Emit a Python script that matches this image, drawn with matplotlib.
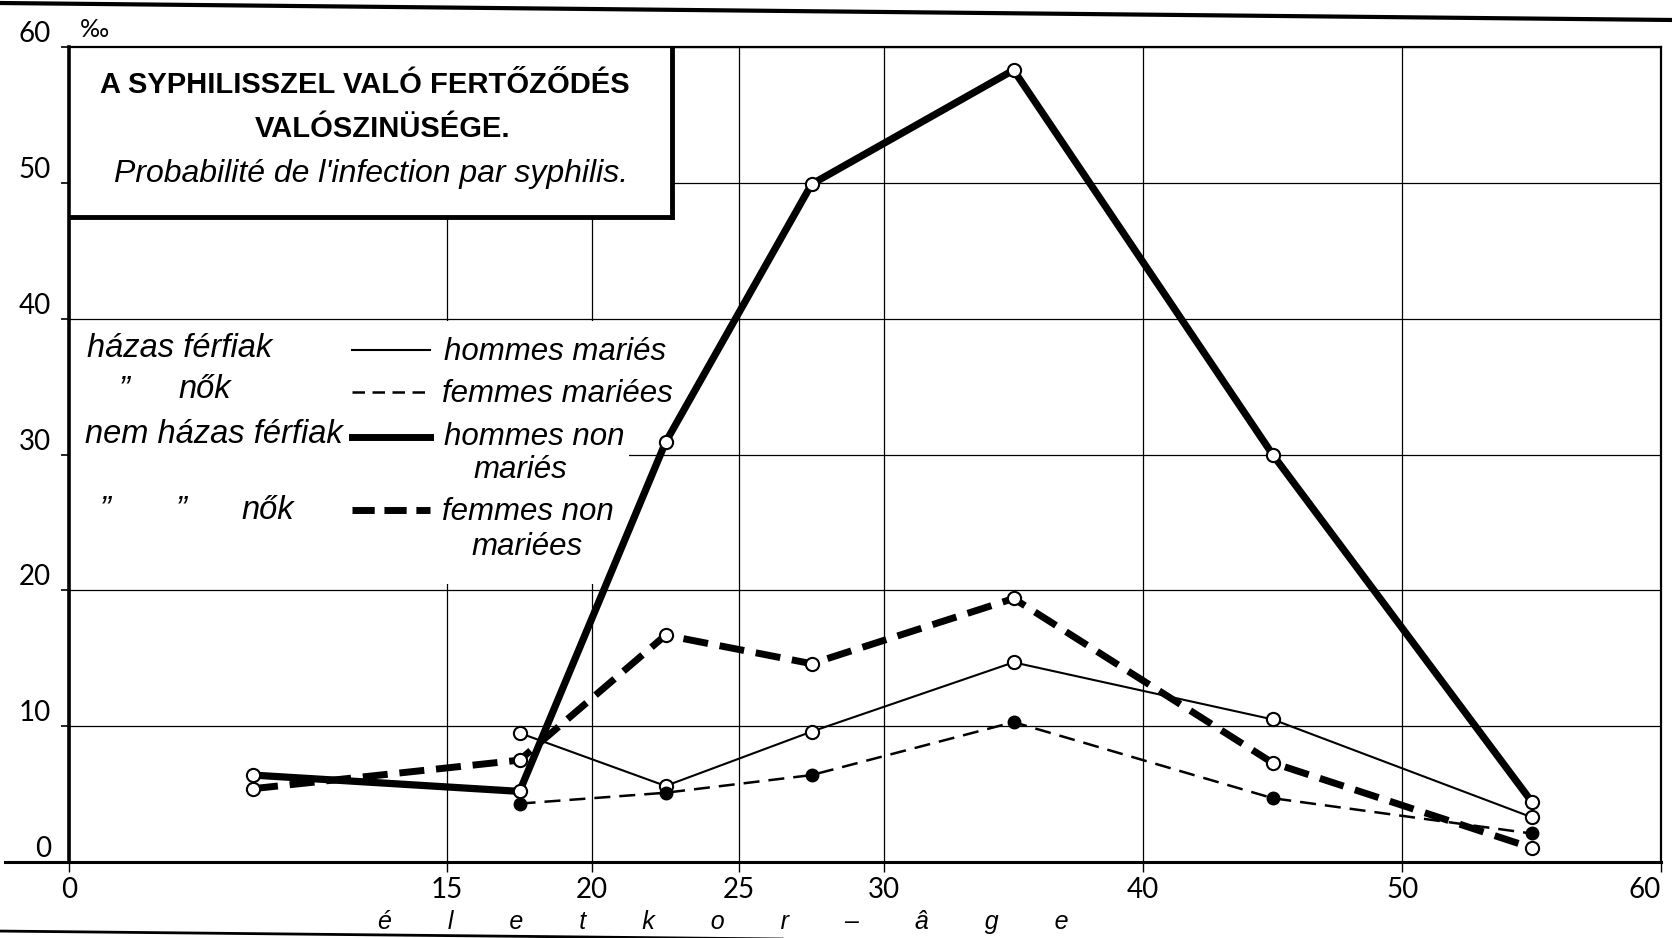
import numpy as np
import matplotlib
matplotlib.use("Agg")
import matplotlib.pyplot as plt
from matplotlib.patches import Rectangle
from matplotlib.lines import Line2D

# életkor / âge : position of each age group on the axis
ages = [7.3, 17.5, 22.5, 27.5, 35, 45, 55]
# probabilité en ‰
hommes_maries = [np.nan, 9.5, 5.6, 9.6, 14.7, 10.5, 3.3]
femmes_mariees = [np.nan, 4.3, 5.1, 6.4, 10.3, 4.7, 2.1]
hommes_non_maries = [6.4, 5.2, 30.9, 49.9, 58.3, 30.0, 4.45]
femmes_non_mariees = [5.4, 7.5, 16.7, 14.6, 19.4, 7.3, 1.05]

x_ticks = [0, 15, 20, 25, 30, 40, 50, 60]
y_ticks = [0, 10, 20, 30, 40, 50, 60]
# the hand drawn age axis is not uniform (5-year steps drawn wider)
x_tick_pos = [69, 447, 592, 739, 884, 1143, 1402, 1661]

TEXT_FONT = ['Liberation Sans', 'DejaVu Sans']
TICK_FONT = ['Lato', 'DejaVu Sans']


def fwd(x):
    return np.interp(x, x_ticks, x_tick_pos)


def inv(p):
    return np.interp(p, x_tick_pos, x_ticks)


fig = plt.figure(figsize=(16.72, 9.38), dpi=100)
ax = fig.add_axes([0.0413, 0.0810, 0.9522, 0.8689])
ax.set_xscale('function', functions=(fwd, inv))
ax.set_xlim(0, 60)
ax.set_ylim(0, 60)
ax.set_axisbelow(True)

ax.set_xticks(x_ticks, labels=[str(t) for t in x_ticks],
              fontfamily=TICK_FONT, fontweight='normal', fontsize=20)
ax.set_yticks(y_ticks, labels=[str(t) for t in y_ticks],
              fontfamily=TICK_FONT, fontweight='normal', fontsize=20)
ax.tick_params(axis='x', direction='out', length=7, width=1.0, pad=4)
ax.tick_params(axis='y', direction='out', length=6, width=1.2, pad=7)
for lab in ax.get_yticklabels():
    lab.set_va('bottom')
ax.get_xticklabels()[-1].set_ha('right')

ax.grid(True, color='black', lw=0.9)
for side, w in [('left', 2.6), ('bottom', 2.2), ('top', 1.6), ('right', 1.6)]:
    ax.spines[side].set_linewidth(w)

# zero line runs on past the left axis
ax.plot([-0.04, 0], [0, 0], color='black', lw=2.2,
        transform=ax.get_yaxis_transform(), clip_on=False)
ax.text(0.007, 1.012, '‰', transform=ax.transAxes, fontsize=18,
        family=TICK_FONT, va='baseline')

# series
open_mk = dict(marker='o', mfc='white', mec='black', mew=1.5, ms=9.5)
ax.plot(ages, hommes_maries, color='black', lw=1.5, zorder=5, **open_mk)
ax.plot(ages, femmes_mariees, color='black', lw=1.8, ls=(0, (6.4, 3.6)),
        marker='o', mfc='black', mec='black', ms=9, zorder=5)
ax.plot(ages, femmes_non_mariees, color='black', lw=5, ls=(0, (3.6, 1.7)),
        zorder=6, **open_mk)
ax.plot(ages, hommes_non_maries, color='black', lw=5.2, zorder=6, **open_mk)

# title box
bx, by = 0.379, 0.791
ax.add_patch(Rectangle((0, by), bx, 1 - by, transform=ax.transAxes,
                       facecolor='white', edgecolor='none', zorder=2))
ax.add_line(Line2D([bx, bx], [by, 1], transform=ax.transAxes, color='black',
                   lw=3.5, solid_capstyle='projecting', zorder=3))
ax.add_line(Line2D([0, bx], [by, by], transform=ax.transAxes, color='black',
                   lw=3.5, solid_capstyle='projecting', zorder=3))
ax.text(0.186, 0.9436, 'A SYPHILISSZEL VALÓ FERTŐZŐDÉS', transform=ax.transAxes,
        ha='center', va='baseline', fontsize=21, fontweight='bold',
        family=TEXT_FONT, zorder=4)
ax.text(0.197, 0.8896, 'VALÓSZINÜSÉGE.', transform=ax.transAxes,
        ha='center', va='baseline', fontsize=21, fontweight='bold',
        family=TEXT_FONT, zorder=4)
ax.text(0.190, 0.8344, "Probabilité de l'infection par syphilis.",
        transform=ax.transAxes, ha='center', va='baseline', fontsize=23,
        style='italic', family=TEXT_FONT, zorder=4)

# legend (blank patch of the grid, hand set)
ax.add_patch(Rectangle((0, 20.5), 0.352, 19.3, transform=ax.get_yaxis_transform(),
                       facecolor='white', edgecolor='none', zorder=2))
hu = dict(transform=ax.transAxes, va='baseline', fontsize=23.5,
          style='italic', family=TEXT_FONT, zorder=4)
fr = dict(hu, fontsize=22.5)
ax.text(0.0113, 0.6196, 'házas férfiak', **hu)
ax.text(0.2356, 0.616, 'hommes mariés', **fr)
ax.text(0.031, 0.569, '”', **hu)
ax.text(0.069, 0.569, 'nők', **hu)
ax.text(0.2343, 0.564, 'femmes mariées', **fr)
ax.text(0.010, 0.514, 'nem házas férfiak', **hu)
ax.text(0.2356, 0.5117, 'hommes non', **fr)
ax.text(0.2538, 0.471, 'mariés', **fr)
ax.text(0.0195, 0.421, '”', **hu)
ax.text(0.067, 0.421, '”', **hu)
ax.text(0.108, 0.421, 'nők', **hu)
ax.text(0.2343, 0.4196, 'femmes non', **fr)
ax.text(0.2525, 0.3767, 'mariées', **fr)

lx = [0.178, 0.227]
ax.add_line(Line2D(lx, [0.628, 0.628], transform=ax.transAxes, color='black', lw=1.5))
ax.add_line(Line2D(lx, [0.577, 0.577], transform=ax.transAxes, color='black', lw=1.8,
                   ls=(0, (5, 3))))
ax.add_line(Line2D(lx, [0.5215, 0.5215], transform=ax.transAxes, color='black', lw=5))
ax.add_line(Line2D(lx, [0.432, 0.432], transform=ax.transAxes, color='black', lw=5,
                   ls=(0, (3.2, 1.4))))

# axis caption
ax.text(0.194, -0.082, (' ' * 8).join('életkor–âge'), transform=ax.transAxes,
        va='baseline', ha='left', fontsize=18, style='italic', family=TEXT_FONT)

# page rules of the plate
fig.add_artist(Line2D([0, 1], [0.9968, 0.9787], color='black', lw=3))
fig.add_artist(Line2D([0, 1], [0.0074, -0.0107], color='black', lw=2))

fig.savefig('out.png', dpi=100)
